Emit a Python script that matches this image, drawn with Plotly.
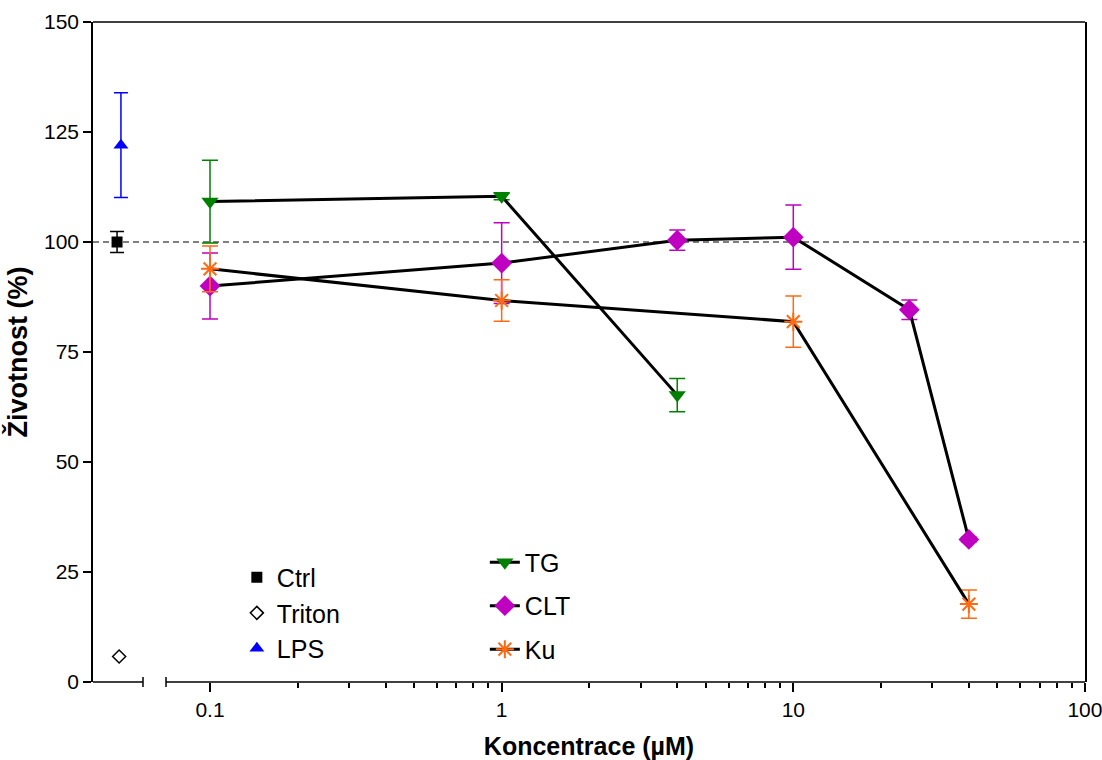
import plotly.graph_objects as go
import math

# ---- data ----
ctrl_x = [0.048]
ctrl_y = [100.0]
ctrl_err = [2.4]

triton_x = [0.0488]
triton_y = [5.8]

lps_x = [0.0495]
lps_y = [122.0]
lps_err = [11.9]

tg_x = [0.1, 1, 4]
tg_y = [109.2, 110.4, 65.2]
tg_err = [9.4, 0.8, 3.8]

clt_x = [0.1, 1, 4, 10, 25, 40]
clt_y = [90.0, 95.2, 100.4, 101.1, 84.6, 32.4]
clt_err = [7.5, 9.2, 2.3, 7.3, 2.2, 0.5]

ku_x = [0.1, 1, 10, 40]
ku_y = [93.9, 86.7, 81.9, 17.7]
ku_err = [5.2, 4.7, 5.8, 3.2]

x_ticks = [0.1, 1, 10, 100]
x_ticklabels = ["0.1", "1", "10", "100"]
x_minor = [m * d for d in (0.1, 1, 10) for m in range(2, 10)]
y_ticks = [0, 25, 50, 75, 100, 125, 150]
ref_level = 100

x_range = [0.0397, 100]
y_range = [0, 150]

FONT = "Liberation Sans, Arial, sans-serif"
GREEN = "#008000"
MAGENTA = "#C000C0"
ORANGE = "#FF6A13"
BLUE = "#0000FF"

fig = go.Figure()

fig.add_trace(go.Scatter(
    x=ctrl_x, y=ctrl_y, mode="markers", name="Ctrl",
    marker=dict(symbol="square", size=11, color="black"),
    error_y=dict(type="data", array=ctrl_err, color="black", thickness=1.5, width=7),
    legend="legend", legendgroup="a"))
fig.add_trace(go.Scatter(
    x=triton_x, y=triton_y, mode="markers", name="Triton",
    marker=dict(symbol="diamond-open", size=10, color="black", line=dict(width=1.5)),
    legend="legend", legendgroup="b"))
fig.add_trace(go.Scatter(
    x=lps_x, y=lps_y, mode="markers", name="LPS",
    marker=dict(symbol="triangle-up", size=13, color=BLUE),
    error_y=dict(type="data", array=lps_err, color=BLUE, thickness=1.5, width=7),
    legend="legend", legendgroup="c"))

fig.add_trace(go.Scatter(
    x=tg_x, y=tg_y, mode="lines+markers", name="TG",
    line=dict(color="black", width=3),
    marker=dict(symbol="triangle-down", size=15, color=GREEN),
    error_y=dict(type="data", array=tg_err, color=GREEN, thickness=1.5, width=8),
    legend="legend2", legendgroup="d"))
fig.add_trace(go.Scatter(
    x=clt_x, y=clt_y, mode="lines+markers", name="CLT",
    line=dict(color="black", width=3),
    marker=dict(symbol="diamond", size=16, color=MAGENTA),
    error_y=dict(type="data", array=clt_err, color=MAGENTA, thickness=1.5, width=8),
    legend="legend2", legendgroup="e"))
fig.add_trace(go.Scatter(
    x=ku_x, y=ku_y, mode="lines+markers", name="Ku",
    line=dict(color="black", width=3),
    marker=dict(symbol="asterisk-open", size=15, color=ORANGE, line=dict(color=ORANGE, width=2)),
    error_y=dict(type="data", array=ku_err, color=ORANGE, thickness=1.5, width=8),
    legend="legend2", legendgroup="f"))

# reference line at 100 %
fig.add_hline(y=ref_level, line=dict(color="black", width=1.2, dash="6px,4px"), layer="below")

# broken x axis line, top and break marks (paper coords)
b1, b2 = 0.0504, 0.0736
tk = 0.0076
shapes = [
    dict(type="line", xref="paper", yref="paper", x0=0, x1=b1, y0=0, y1=0, line=dict(color="black", width=1.5)),
    dict(type="line", xref="paper", yref="paper", x0=b2, x1=1, y0=0, y1=0, line=dict(color="black", width=1.5)),
    dict(type="line", xref="paper", yref="paper", x0=b1, x1=b1, y0=-tk, y1=tk, line=dict(color="black", width=1.5)),
    dict(type="line", xref="paper", yref="paper", x0=b2, x1=b2, y0=-tk, y1=tk, line=dict(color="black", width=1.5)),
    dict(type="line", xref="paper", yref="paper", x0=0, x1=1, y0=1, y1=1, line=dict(color="black", width=1.5)),
]
for s in shapes:
    fig.add_shape(**s)

fig.update_layout(
    width=1102, height=760,
    margin=dict(l=93, r=17, t=22, b=78),
    paper_bgcolor="white", plot_bgcolor="white",
    font=dict(family=FONT, color="black", size=21),
    showlegend=True,
    legend=dict(x=0.145, y=0.193, xanchor="left", yanchor="top",
                bgcolor="rgba(0,0,0,0)", font=dict(size=25, family=FONT),
                tracegroupgap=0, itemwidth=30),
    legend2=dict(x=0.395, y=0.216, xanchor="left", yanchor="top",
                 bgcolor="rgba(0,0,0,0)", font=dict(size=25, family=FONT),
                 tracegroupgap=8, itemwidth=30),
    xaxis=dict(type="log", range=[math.log10(x_range[0]), math.log10(x_range[1]) + 0.0002],
               showline=False, showgrid=False, zeroline=False, automargin=False,
               tickmode="array", tickvals=x_ticks, ticktext=x_ticklabels,
               ticks="outside", ticklen=9, tickwidth=1.5, tickcolor="black",
               ticklabeloverflow="allow",
               tickfont=dict(size=21, family=FONT),
               minor=dict(tickmode="array", tickvals=x_minor, ticks="outside",
                          ticklen=5, tickwidth=1.5, tickcolor="black", showgrid=False),
               title=dict(text="<b>Koncentrace (µM)</b>", font=dict(size=25, family=FONT), standoff=18)),
    yaxis=dict(range=y_range, showline=True, linecolor="black", linewidth=1.5, mirror=True,
               showgrid=False, zeroline=False, automargin=False,
               tickmode="array", tickvals=y_ticks,
               ticks="outside", ticklen=8, tickwidth=1.5, tickcolor="black",
               tickfont=dict(size=21, family=FONT),
               title=dict(text="<b>Životnost (%)</b>", font=dict(size=27, family=FONT), standoff=9)),
)

fig.write_html("out.html")
